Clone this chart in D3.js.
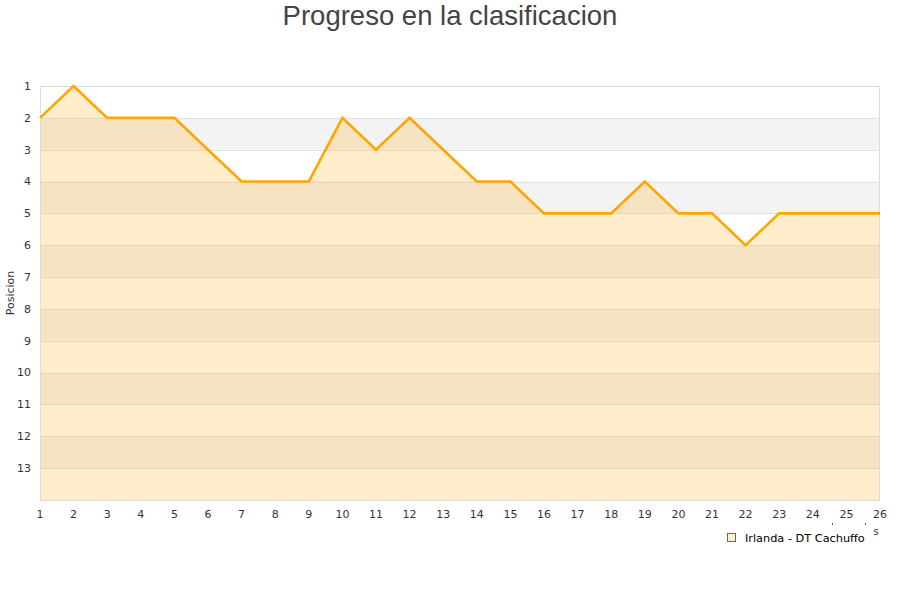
<!DOCTYPE html>
<html>
<head>
<meta charset="utf-8">
<script src="https://cdn.jsdelivr.net/npm/d3@7"></script>
<style>
body{margin:0;background:#fff;}
svg{display:block;}
</style>
</head>
<body>
<svg id="chart" width="900" height="600"></svg>
<script>
const jornadas = [1,2,3,4,5,6,7,8,9,10,11,12,13,14,15,16,17,18,19,20,21,22,23,24,25,26];
const posiciones = [2,1,2,2,2,3,4,4,4,2,3,2,3,4,4,5,5,5,4,5,5,6,5,5,5,5];
const yTicks = [1,2,3,4,5,6,7,8,9,10,11,12,13];
const serieNombre = "Irlanda - DT Cachuffo";
const titulo = "Progreso en la clasificacion";
const ejeY = "Posicion";

(function(){
const svg = d3.select("#chart");
const pL = 40, pR = 880, pT = 86, pB = 500;
const x = d3.scaleLinear().domain([1,26]).range([pL,pR]);
const y = d3.scaleLinear().domain([1,14]).range([pT,pB]);

// bands
const bands = d3.range(1,14);
svg.append("g").selectAll("rect").data(bands).join("rect")
  .attr("x", pL).attr("width", pR-pL)
  .attr("y", d=>y(d)).attr("height", d=>y(d+1)-y(d))
  .attr("fill", d=> d%2===0 ? "#f3f3f3" : "#ffffff");

// grid lines
svg.append("g").selectAll("line").data(d3.range(2,14)).join("line")
  .attr("x1", pL).attr("x2", pR)
  .attr("y1", d=>Math.round(y(d))+0.5).attr("y2", d=>Math.round(y(d))+0.5)
  .attr("stroke", "#e2e2e2").attr("stroke-width",1);

// area
const area = d3.area().x((d,i)=>x(jornadas[i])).y0(y(14)).y1(d=>y(d));
svg.append("path").datum(posiciones).attr("d", area)
  .attr("fill", "rgba(255,165,0,0.2)");

// border
svg.append("rect").attr("x", pL+0.5).attr("y", pT+0.5)
  .attr("width", pR-pL-1).attr("height", pB-pT)
  .attr("fill","none").attr("stroke","#dcdcdc").attr("stroke-width",1);

// line
const line = d3.line().x((d,i)=>x(jornadas[i])).y(d=>y(d));
svg.append("path").datum(posiciones).attr("d", line)
  .attr("fill","none").attr("stroke","#ffa500").attr("stroke-width",2.6)
  .attr("stroke-linejoin","miter");

// y axis labels
svg.append("g").selectAll("text").data(yTicks).join("text")
  .attr("x", 31).attr("y", d=>y(d)).attr("dy","0.35em")
  .attr("text-anchor","end")
  .attr("font-family","DejaVu Sans").attr("font-size",11).attr("fill","#333")
  .text(d=>d);

// x axis labels
svg.append("g").selectAll("text").data(jornadas).join("text")
  .attr("x", d=>x(d)).attr("y", 518)
  .attr("text-anchor","middle")
  .attr("font-family","DejaVu Sans").attr("font-size",11).attr("fill","#333")
  .text(d=>d);

// y axis title
svg.append("text").attr("transform","translate(14,293) rotate(-90)")
  .attr("text-anchor","middle")
  .attr("font-family","DejaVu Sans").attr("font-size",11).attr("fill","#333")
  .text(ejeY);

// title
svg.append("text").attr("x",450).attr("y",25).attr("text-anchor","middle")
  .attr("font-family","Liberation Sans, Arial, sans-serif").attr("font-size",27.5).attr("fill","#444")
  .text(titulo);

// clipped x axis title remnant
svg.append("text").attr("x",876).attr("y",535).attr("text-anchor","middle")
  .attr("font-family","DejaVu Sans").attr("font-size",10).attr("fill","#333").text("s");
svg.append("g").selectAll("rect").data([832,865]).join("rect")
  .attr("x",d=>d).attr("y",523).attr("width",1).attr("height",2).attr("fill","#555");

// legend
svg.append("rect").attr("x",727.5).attr("y",533.5).attr("width",8).attr("height",8)
  .attr("fill","#ffedcc").attr("stroke","#666").attr("stroke-width",1);
svg.append("text").attr("x",745).attr("y",541.5)
  .attr("font-family","DejaVu Sans").attr("font-size",11.3).attr("fill","#000")
  .text(serieNombre);
})();
</script>
</body>
</html>
